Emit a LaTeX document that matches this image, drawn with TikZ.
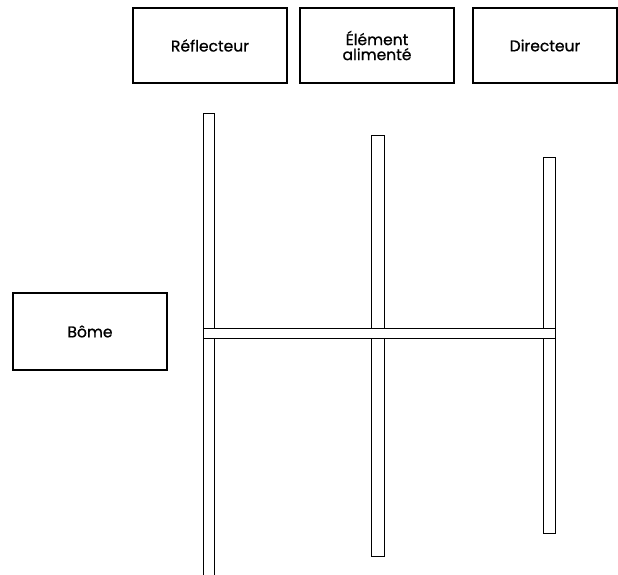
\documentclass[tikz,border=0pt]{standalone}
\usepackage{fontspec}
\setmainfont{Poppins}
\newfontfamily\lblfont{Poppins}[FakeBold=0.8]
\begin{document}
\begin{tikzpicture}[x=1pt,y=-1pt,
  labelbox/.style={draw=black,line width=1.6pt,fill=white,inner sep=0pt,align=center,
    font=\lblfont\fontsize{15.5}{15}\selectfont},
  elem/.style={draw=black,line width=1pt,fill=white}]
\useasboundingbox (0,0) rectangle (618,575);
\clip (0,0) rectangle (618,575);
% labels
\node[labelbox,minimum width=154pt,minimum height=75pt] (refl) at (210,45.5) {Réflecteur};
\node[labelbox,minimum width=154pt,minimum height=75pt] (driv) at (377,45.5) {Élément\\alimenté};
\node[labelbox,minimum width=144pt,minimum height=75pt] (dirc) at (545,45.5) {Directeur};
\node[labelbox,minimum width=154pt,minimum height=77pt] (boom) at (90,331.5) {Bôme};
% elements
\draw[elem] (203,580) -- (203,113.5) -- (214,113.5) -- (214,580);
\draw[elem] (371.5,135.5) rectangle (384,556.5);
\draw[elem] (543,157.5) rectangle (555,533.5);
% boom
\draw[elem] (203,328) rectangle (555,338.5);
\end{tikzpicture}
\end{document}
